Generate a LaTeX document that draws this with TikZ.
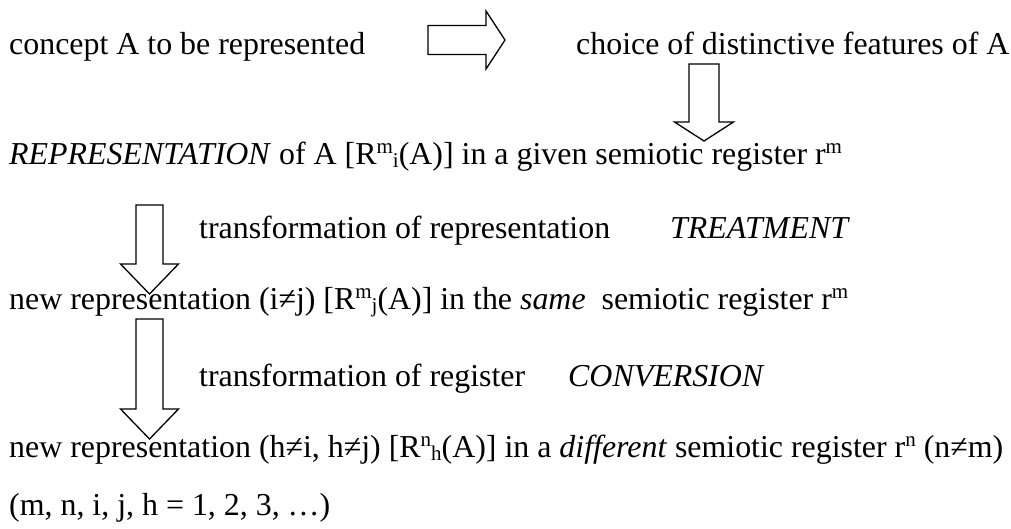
\documentclass[tikz,border=0pt]{standalone}
\usepackage{fontspec}
\setmainfont{Liberation Serif}
\newcommand\sups[1]{\raisebox{0.33em}{\fontsize{21}{21}\selectfont #1}}
\newcommand\subs[1]{\raisebox{-0.1em}{\fontsize{21}{21}\selectfont #1}}
\begin{document}
\begin{tikzpicture}[x=1pt,y=-1pt,
  txt/.style={anchor=base west, inner sep=0pt, font=\fontsize{31.9}{38}\selectfont},
  blockarrow/.style={draw, line width=1.3pt, fill=white, line join=miter}]
\useasboundingbox (0,0) rectangle (1011,528);
% texts
\node[txt] (c) at (9,54) {concept A to be represented};
\node[txt] (f) at (576,54) {choice of distinctive features of A};
\node[txt] (r) at (9,164) {\textit{REPRESENTATION} of A [R\sups{m}\subs{i}(A)] in a given semiotic register r\sups{m}};
\node[txt] (t1) at (199,238) {transformation of representation};
\node[txt] (tr) at (670,238) {\textit{TREATMENT}};
\node[txt] (n1) at (9,309) {new representation (i≠j) [R\sups{m}\subs{j}(A)] in the \textit{same}\ \ semiotic register r\sups{m}};
\node[txt] (t2) at (199,386) {transformation of register};
\node[txt] (cv) at (568,386) {\textit{CONVERSION}};
\node[txt] (n2) at (9,457) {new representation (h≠i, h≠j) [R\sups{n}\subs{h}(A)] in a \textit{different} semiotic register r\sups{n} (n≠m)};
\node[txt] (k) at (9,515) {(m, n, i, j, h = 1, 2, 3, …)};
% arrow anchors
\coordinate (a1) at (428,40);
\coordinate (a2) at (704,64);
\coordinate (a3) at (149.5,205);
\coordinate (a4) at (149.5,319);
% right arrow
\draw[blockarrow] (a1) ++(0,-14.5) -- ++(58,0) -- ++(0,-14.5) -- ++(19,29) -- ++(-19,29) -- ++(0,-14.5) -- ++(-58,0) -- cycle;
% down arrow from features
\draw[blockarrow] (a2) ++(-15,0) -- ++(0,58) -- ++(-14.5,0) -- ++(29.5,19) -- ++(29.5,-19) -- ++(-14.5,0) -- ++(0,-58) -- cycle;
% down arrow treatment
\draw[blockarrow] (a3) ++(-13.5,0) -- ++(0,59) -- ++(-15.5,0) -- ++(29,30) -- ++(29,-30) -- ++(-15.5,0) -- ++(0,-59) -- cycle;
% down arrow conversion
\draw[blockarrow] (a4) ++(-13.5,0) -- ++(0,90) -- ++(-15.5,0) -- ++(29,30) -- ++(29,-30) -- ++(-15.5,0) -- ++(0,-90) -- cycle;
\end{tikzpicture}
\end{document}
